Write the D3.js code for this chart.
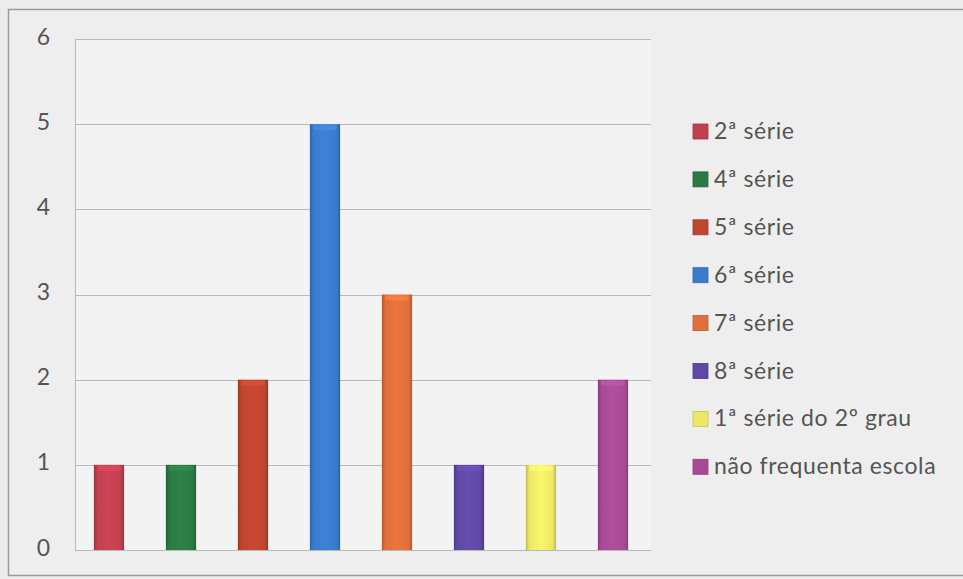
<!DOCTYPE html>
<html>
<head>
<meta charset="utf-8">
<script src="https://cdn.jsdelivr.net/npm/d3@7"></script>
<style>
  html, body { margin: 0; padding: 0; background: #ececec; }
  svg { display: block; font-family: Lato, "Open Sans", sans-serif; }
</style>
</head>
<body>
<div id="chart"></div>
<script>
'use strict'

// data
const categories = ['2ª série', '4ª série', '5ª série', '6ª série', '7ª série', '8ª série', '1ª série do 2º grau', 'não frequenta escola']
const values = [1, 1, 2, 5, 3, 1, 1, 2]
const colors = ['#c1404f', '#2b7a45', '#bf4530', '#3a7bcc', '#e06f3a', '#6048a6', '#ece865', '#a84b96']
const yTicks = [0, 1, 2, 3, 4, 5, 6]

const svgWidth = 963, svgHeight = 579

const svg = d3.select('#chart')
    .append('svg')
    .attr('width', svgWidth)
    .attr('height', svgHeight)

// outer frame
svg.append('rect')
    .attr('x', 8.5).attr('y', 9.5)
    .attr('width', 970).attr('height', 566)
    .attr('fill', '#eeeeee')
    .attr('stroke', '#9a9a9a')
    .attr('stroke-width', 1.5)

const plot = { left: 75, right: 651, top: 39, bottom: 550 }

const x = d3.scaleBand()
    .domain(categories)
    .range([plot.left - 2, plot.right - 2])
    .paddingInner(0.58)
    .paddingOuter(0.29)

const y = d3.scaleLinear()
    .domain([0, 6])
    .range([plot.bottom, plot.top])

svg.append('rect')
    .attr('x', plot.left).attr('y', plot.top)
    .attr('width', plot.right - plot.left).attr('height', plot.bottom - plot.top)
    .attr('fill', '#f3f3f3')

// gridlines
svg.append('g')
    .selectAll('line')
    .data(yTicks)
    .join('line')
    .attr('x1', plot.left).attr('x2', plot.right)
    .attr('y1', d => Math.round(y(d)) + 0.5).attr('y2', d => Math.round(y(d)) + 0.5)
    .attr('stroke', '#b9b9b9')

svg.append('line')
    .attr('x1', plot.left + 0.5).attr('x2', plot.left + 0.5)
    .attr('y1', plot.top).attr('y2', plot.bottom)
    .attr('stroke', '#b9b9b9')

// y axis labels
const yAxis = d3.axisLeft(y).tickValues(yTicks).tickFormat(d3.format('d')).tickSize(0).tickPadding(25)
const ya = svg.append('g')
    .attr('transform', `translate(${plot.left},0)`)
    .call(yAxis)
ya.select('.domain').remove()
ya.selectAll('text')
    .attr('font-size', 23)
    .attr('font-family', 'Lato, sans-serif')
    .attr('fill', '#555')
    .attr('dy', '0.22em')

// gradients for the bevelled bar look
const defs = svg.append('defs')
colors.forEach((c, i) => {
    const g = defs.append('linearGradient').attr('id', 'grad' + i)
        .attr('x1', '0').attr('x2', '1').attr('y1', '0').attr('y2', '0')
    const dark = d3.color(c).darker(0.6), light = d3.color(c).brighter(0.15)
    g.append('stop').attr('offset', '0%').attr('stop-color', dark)
    g.append('stop').attr('offset', '12%').attr('stop-color', c)
    g.append('stop').attr('offset', '50%').attr('stop-color', light)
    g.append('stop').attr('offset', '88%').attr('stop-color', c)
    g.append('stop').attr('offset', '100%').attr('stop-color', dark)
})

const bars = svg.append('g')
    .selectAll('g')
    .data(categories)
    .join('g')

bars.append('rect')
    .attr('x', d => x(d))
    .attr('y', (d, i) => y(values[i]))
    .attr('width', x.bandwidth())
    .attr('height', (d, i) => y(0) - y(values[i]))
    .attr('fill', (d, i) => `url(#grad${i})`)

// lighter top cap
bars.append('rect')
    .attr('x', d => x(d) + 3)
    .attr('y', (d, i) => y(values[i]) + 1)
    .attr('width', x.bandwidth() - 6)
    .attr('height', 5)
    .attr('rx', 3)
    .attr('fill', (d, i) => d3.color(colors[i]).brighter(0.5))
    .attr('opacity', 0.6)

// legend
const legend = svg.append('g')
    .selectAll('g')
    .data(categories)
    .join('g')
    .attr('transform', (d, i) => `translate(693,${131 + i * 47.9})`)

legend.append('rect')
    .attr('x', 0).attr('y', -7)
    .attr('width', 15).attr('height', 15)
    .attr('fill', (d, i) => colors[i])
    .attr('stroke', (d, i) => d3.color(colors[i]).darker(0.5))
    .attr('stroke-width', 0.8)

legend.append('text')
    .attr('x', 21)
    .attr('dy', '0.35em')
    .attr('font-size', 23)
    .attr('letter-spacing', 0.6)
    .attr('fill', '#555')
    .text(d => d)
</script>
</body>
</html>
